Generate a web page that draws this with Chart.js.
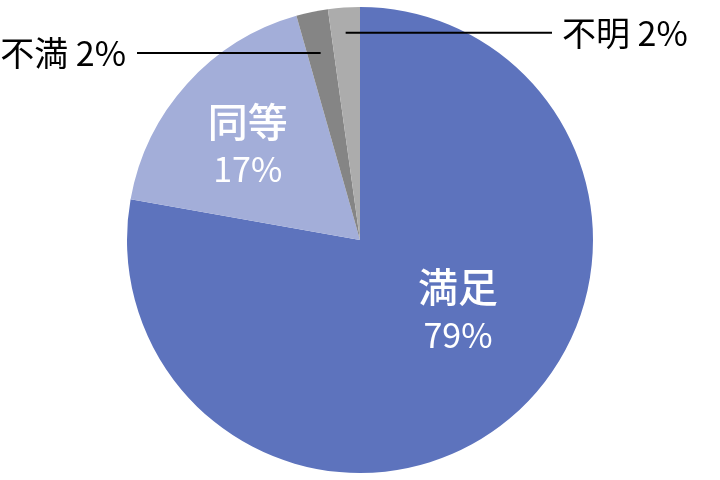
<!DOCTYPE html>
<html lang="ja">
<head>
    <meta charset="UTF-8">
    <title>満足度</title>
    <style>
        html, body {
            margin: 0;
            padding: 0;
            background: #ffffff;
        }
    </style>
</head>
<body>
    <canvas id="pieChart" width="720" height="480"></canvas>

    <script src="https://cdn.jsdelivr.net/npm/chart.js"></script>
    <script>
        const categories = ['満足', '同等', '不満', '不明'];
        const shares = [77.8, 17.8, 2.2, 2.2];
        const shareLabels = ['79%', '17%', '2%', '2%'];
        const sliceColors = ['#5d73bd', '#a3aed9', '#858585', '#acacac'];

        const fontFamily = '"Noto Sans CJK JP", "Noto Sans", sans-serif';

        // how each slice gets its label: inside (white, two lines) or outside with a leader line
        const labelStyle = [
            { inside: true, shift: -14, frac: 0.52 },
            { inside: true, shift: -2, frac: 0.63 },
            { inside: false, side: 'left', lineY: 0.803, lineEnd: 0.957 },
            { inside: false, side: 'right', lineY: 0.89, lineEnd: 0.824 }
        ];

        const sliceLabels = {
            id: 'sliceLabels',
            afterDatasetsDraw(chart) {
                const ctx = chart.ctx;
                const meta = chart.getDatasetMeta(0);
                meta.data.forEach((arc, i) => {
                    const st = labelStyle[i];
                    const cx = arc.x, cy = arc.y, r = arc.outerRadius;
                    const mid = (arc.startAngle + arc.endAngle) / 2;
                    ctx.save();
                    if (st.inside) {
                        const a = mid + st.shift * Math.PI / 180;
                        const px = cx + Math.cos(a) * r * st.frac;
                        const py = cy + Math.sin(a) * r * st.frac;
                        ctx.fillStyle = '#ffffff';
                        ctx.textAlign = 'center';
                        ctx.textBaseline = 'middle';
                        ctx.font = '500 40px ' + fontFamily;
                        ctx.fillText(categories[i], px, py - 24);
                        ctx.font = '34px ' + fontFamily;
                        ctx.fillText(shareLabels[i], px, py + 24);
                    } else {
                        const ly = cy - r * st.lineY;
                        // point on the slice's middle ray at that height
                        const tx = cx + Math.cos(mid) * (cy - ly) / -Math.sin(mid);
                        const ex = st.side === 'left' ? cx - r * st.lineEnd : cx + r * st.lineEnd;
                        ctx.strokeStyle = '#000000';
                        ctx.lineWidth = 2;
                        ctx.beginPath();
                        ctx.moveTo(tx, ly);
                        ctx.lineTo(ex, ly);
                        ctx.stroke();
                        ctx.fillStyle = '#000000';
                        ctx.textBaseline = 'middle';
                        ctx.font = '34px ' + fontFamily;
                        const txt = categories[i] + ' ' + shareLabels[i];
                        if (st.side === 'left') {
                            ctx.textAlign = 'right';
                            ctx.fillText(txt, ex - 11, ly);
                        } else {
                            ctx.textAlign = 'left';
                            ctx.fillText(txt, ex + 10, ly);
                        }
                    }
                    ctx.restore();
                });
            }
        };

        const ctx = document.getElementById('pieChart').getContext('2d');
        const pieChart = new Chart(ctx, {
            type: 'pie',
            data: {
                labels: categories,
                datasets: [{
                    data: shares,
                    backgroundColor: sliceColors,
                    borderWidth: 0
                }]
            },
            options: {
                responsive: false,
                animation: false,
                layout: { padding: 7 },
                plugins: {
                    legend: { display: false },
                    tooltip: { enabled: false }
                }
            },
            plugins: [sliceLabels]
        });
    </script>
</body>
</html>
